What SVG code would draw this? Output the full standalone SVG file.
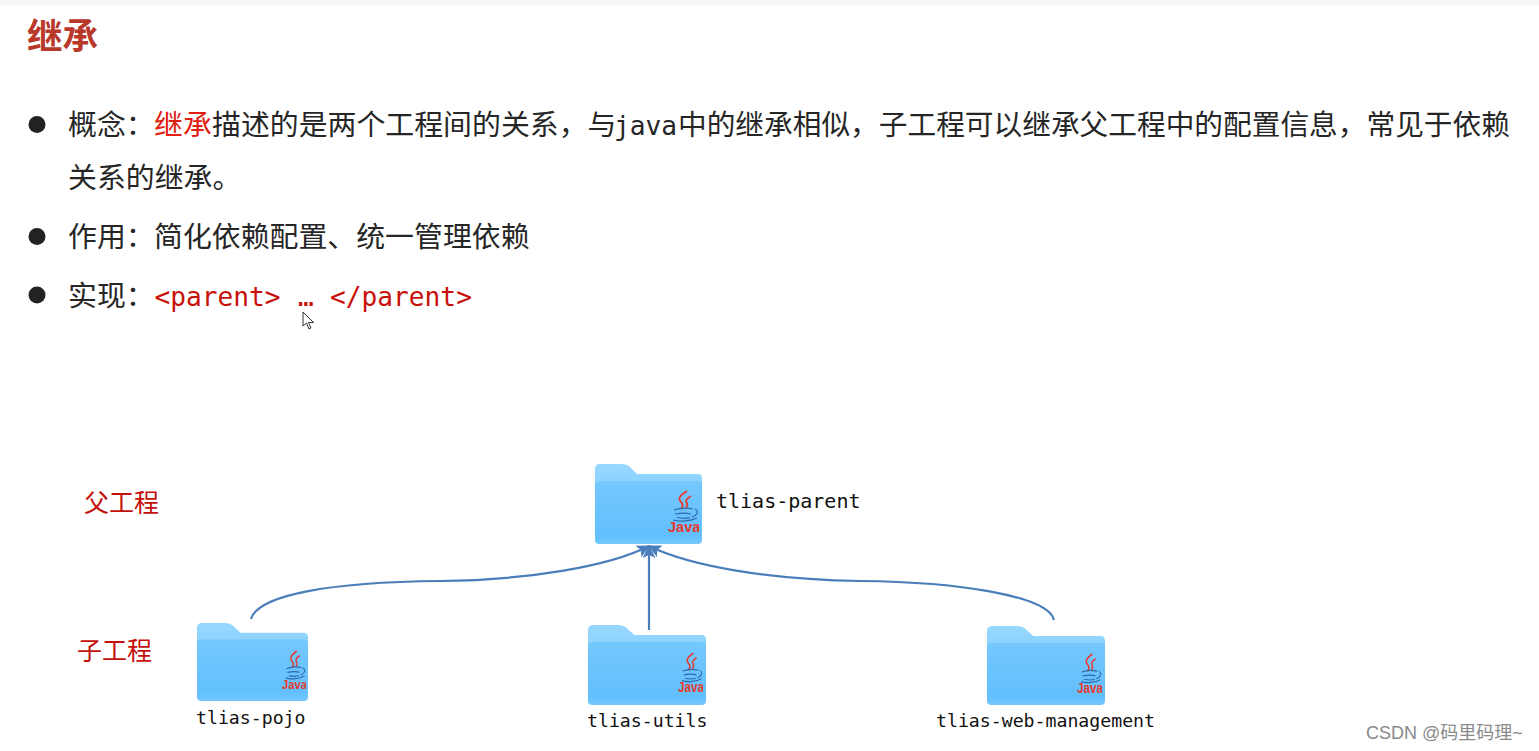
<svg xmlns="http://www.w3.org/2000/svg" width="1539" height="751" viewBox="0 0 1539 751">
<style>
.cn{font-family:"Noto Sans CJK SC","Noto Sans",sans-serif;font-size:28.9px;fill:#262626}
.red{fill:#c8100a}
.hl{fill:#e02010}
.mono{font-family:"DejaVu Sans Mono","Liberation Mono",monospace}
.lbl{font-family:"DejaVu Sans Mono","Liberation Mono",monospace;fill:#111}
.side{font-family:"Noto Sans CJK SC",sans-serif;font-size:25px;fill:#c4100a}
.conn{fill:none;stroke:#4a7ebb;stroke-width:2.2}
.jv{font-family:"Liberation Sans",sans-serif;font-weight:700;font-size:14.5px;fill:#e8392c}
</style>
<defs>
<linearGradient id="back" x1="0" y1="0" x2="0" y2="1"><stop offset="0" stop-color="#98d8ff"/><stop offset="1" stop-color="#84cffe"/></linearGradient>
<linearGradient id="front" x1="0" y1="0" x2="0" y2="1"><stop offset="0" stop-color="#74c8fd"/><stop offset="0.85" stop-color="#62bffd"/><stop offset="1" stop-color="#74c8fd"/></linearGradient>
<symbol id="folder" viewBox="0 0 107 80" preserveAspectRatio="none">
<path d="M0 5Q0 0 5 0H27Q32 0 35 3L42 10H103Q107 10 107 15V30H0Z" fill="url(#back)"/>
<path d="M0 21Q0 17 5 17H102Q107 17 107 21V76Q107 80 103 80H4Q0 80 0 76Z" fill="url(#front)"/>
</symbol>
<symbol id="logo" viewBox="0 0 31 43" preserveAspectRatio="none">
<path d="M19 1C13 5 9 8 13 12C16 15 15 17 13 19M23 6C18 9 17 11 19 13C20 15 19 16 18 18" fill="none" stroke="#e8392c" stroke-width="1.800"/>
<path d="M6 20C12 18 20 18 25 19M7 24C13 23 19 23 23 24M9 27.500C14 28.500 19 28.500 22 27.500M27 19C32 22 28 26 24 27M5 30C12 32 23 31 29 28" fill="none" stroke="#2c6aa8" stroke-width="1.200"/>
<text class="jv" x="0" y="42">Java</text>
</symbol>
<marker id="arr" markerWidth="14" markerHeight="14" refX="12" refY="6.500" orient="auto" markerUnits="userSpaceOnUse"><path d="M0 0L13 6.500L0 13L3 6.500Z" fill="#4a7ebb"/></marker>
</defs>
<rect width="1539" height="751" fill="#fff"/>
<rect width="1539" height="5" fill="#f6f6f6"/>
<text x="27" y="49" font-family="Noto Sans CJK SC,sans-serif" font-size="35.500" font-weight="700" fill="#b8382a">继承</text>
<circle cx="37" cy="124.500" r="8.500" fill="#222"/>
<circle cx="37" cy="236.500" r="8.500" fill="#222"/>
<circle cx="37" cy="295" r="8.500" fill="#222"/>
<text class="cn" y="134.500"><tspan x="68">概念&#xFF1A;</tspan><tspan x="154" class="hl">继承</tspan><tspan x="212">描述的是两个工程间的关系&#xFF0C;与</tspan><tspan x="614" class="mono" font-size="26.200">java</tspan><tspan x="678" font-size="28.700">中的继承相似&#xFF0C;子工程可以继承父工程中的配置信息&#xFF0C;常见于依赖</tspan></text>
<text class="cn" x="68" y="188">关系的继承。</text>
<text class="cn" y="247"><tspan x="68">作用&#xFF1A;</tspan><tspan x="154">简化依赖配置、统一管理依赖</tspan></text>
<text class="cn" y="306"><tspan x="68">实现&#xFF1A;</tspan></text>
<text class="mono red" font-size="26.200" y="306"><tspan x="154.500">&lt;parent&gt;</tspan><tspan x="298">…</tspan><tspan x="330">&lt;/parent&gt;</tspan></text>
<path d="M303 312V326L306.500 323L309 329L311 328L308.500 322.500H313.500Z" fill="#fff" stroke="#333" stroke-width="1"/>
<g id="connectors">
<path class="conn" marker-end="url(#arr)" d="M251 619C258 595 330 582 440 581C530 580 610 566 649 546"/>
<path class="conn" marker-end="url(#arr)" d="M649 630V546"/>
<path class="conn" marker-end="url(#arr)" d="M1054 620C1048 596 960 582 860 581C770 580 690 566 649 546"/>
</g>
<g id="label-parent"><text class="side" x="84" y="512">父工程</text></g>
<g id="label-child"><text class="side" x="77" y="660">子工程</text></g>
<g id="tlias-parent"><use href="#folder" x="595" y="464" width="107" height="80"/><use href="#logo" x="668" y="490" width="31" height="43"/><text class="lbl" x="716" y="508" font-size="20">tlias-parent</text></g>
<g id="tlias-pojo"><use href="#folder" x="197" y="623" width="111" height="78"/><use href="#logo" x="282" y="650" width="24" height="40"/><text class="lbl" x="196" y="724" font-size="18.200">tlias-pojo</text></g>
<g id="tlias-utils"><use href="#folder" x="588" y="625" width="118" height="80"/><use href="#logo" x="678" y="652" width="25" height="41"/><text class="lbl" x="587" y="727" font-size="18.200">tlias-utils</text></g>
<g id="tlias-web-management"><use href="#folder" x="987" y="626" width="118" height="79"/><use href="#logo" x="1077" y="653" width="25" height="41"/><text class="lbl" x="936" y="727" font-size="18.200">tlias-web-management</text></g>
<text x="1366" y="739" font-family="Liberation Sans,Noto Sans CJK SC,sans-serif" font-size="18" fill="#8a8a8a">CSDN @码里码理~</text>
</svg>
